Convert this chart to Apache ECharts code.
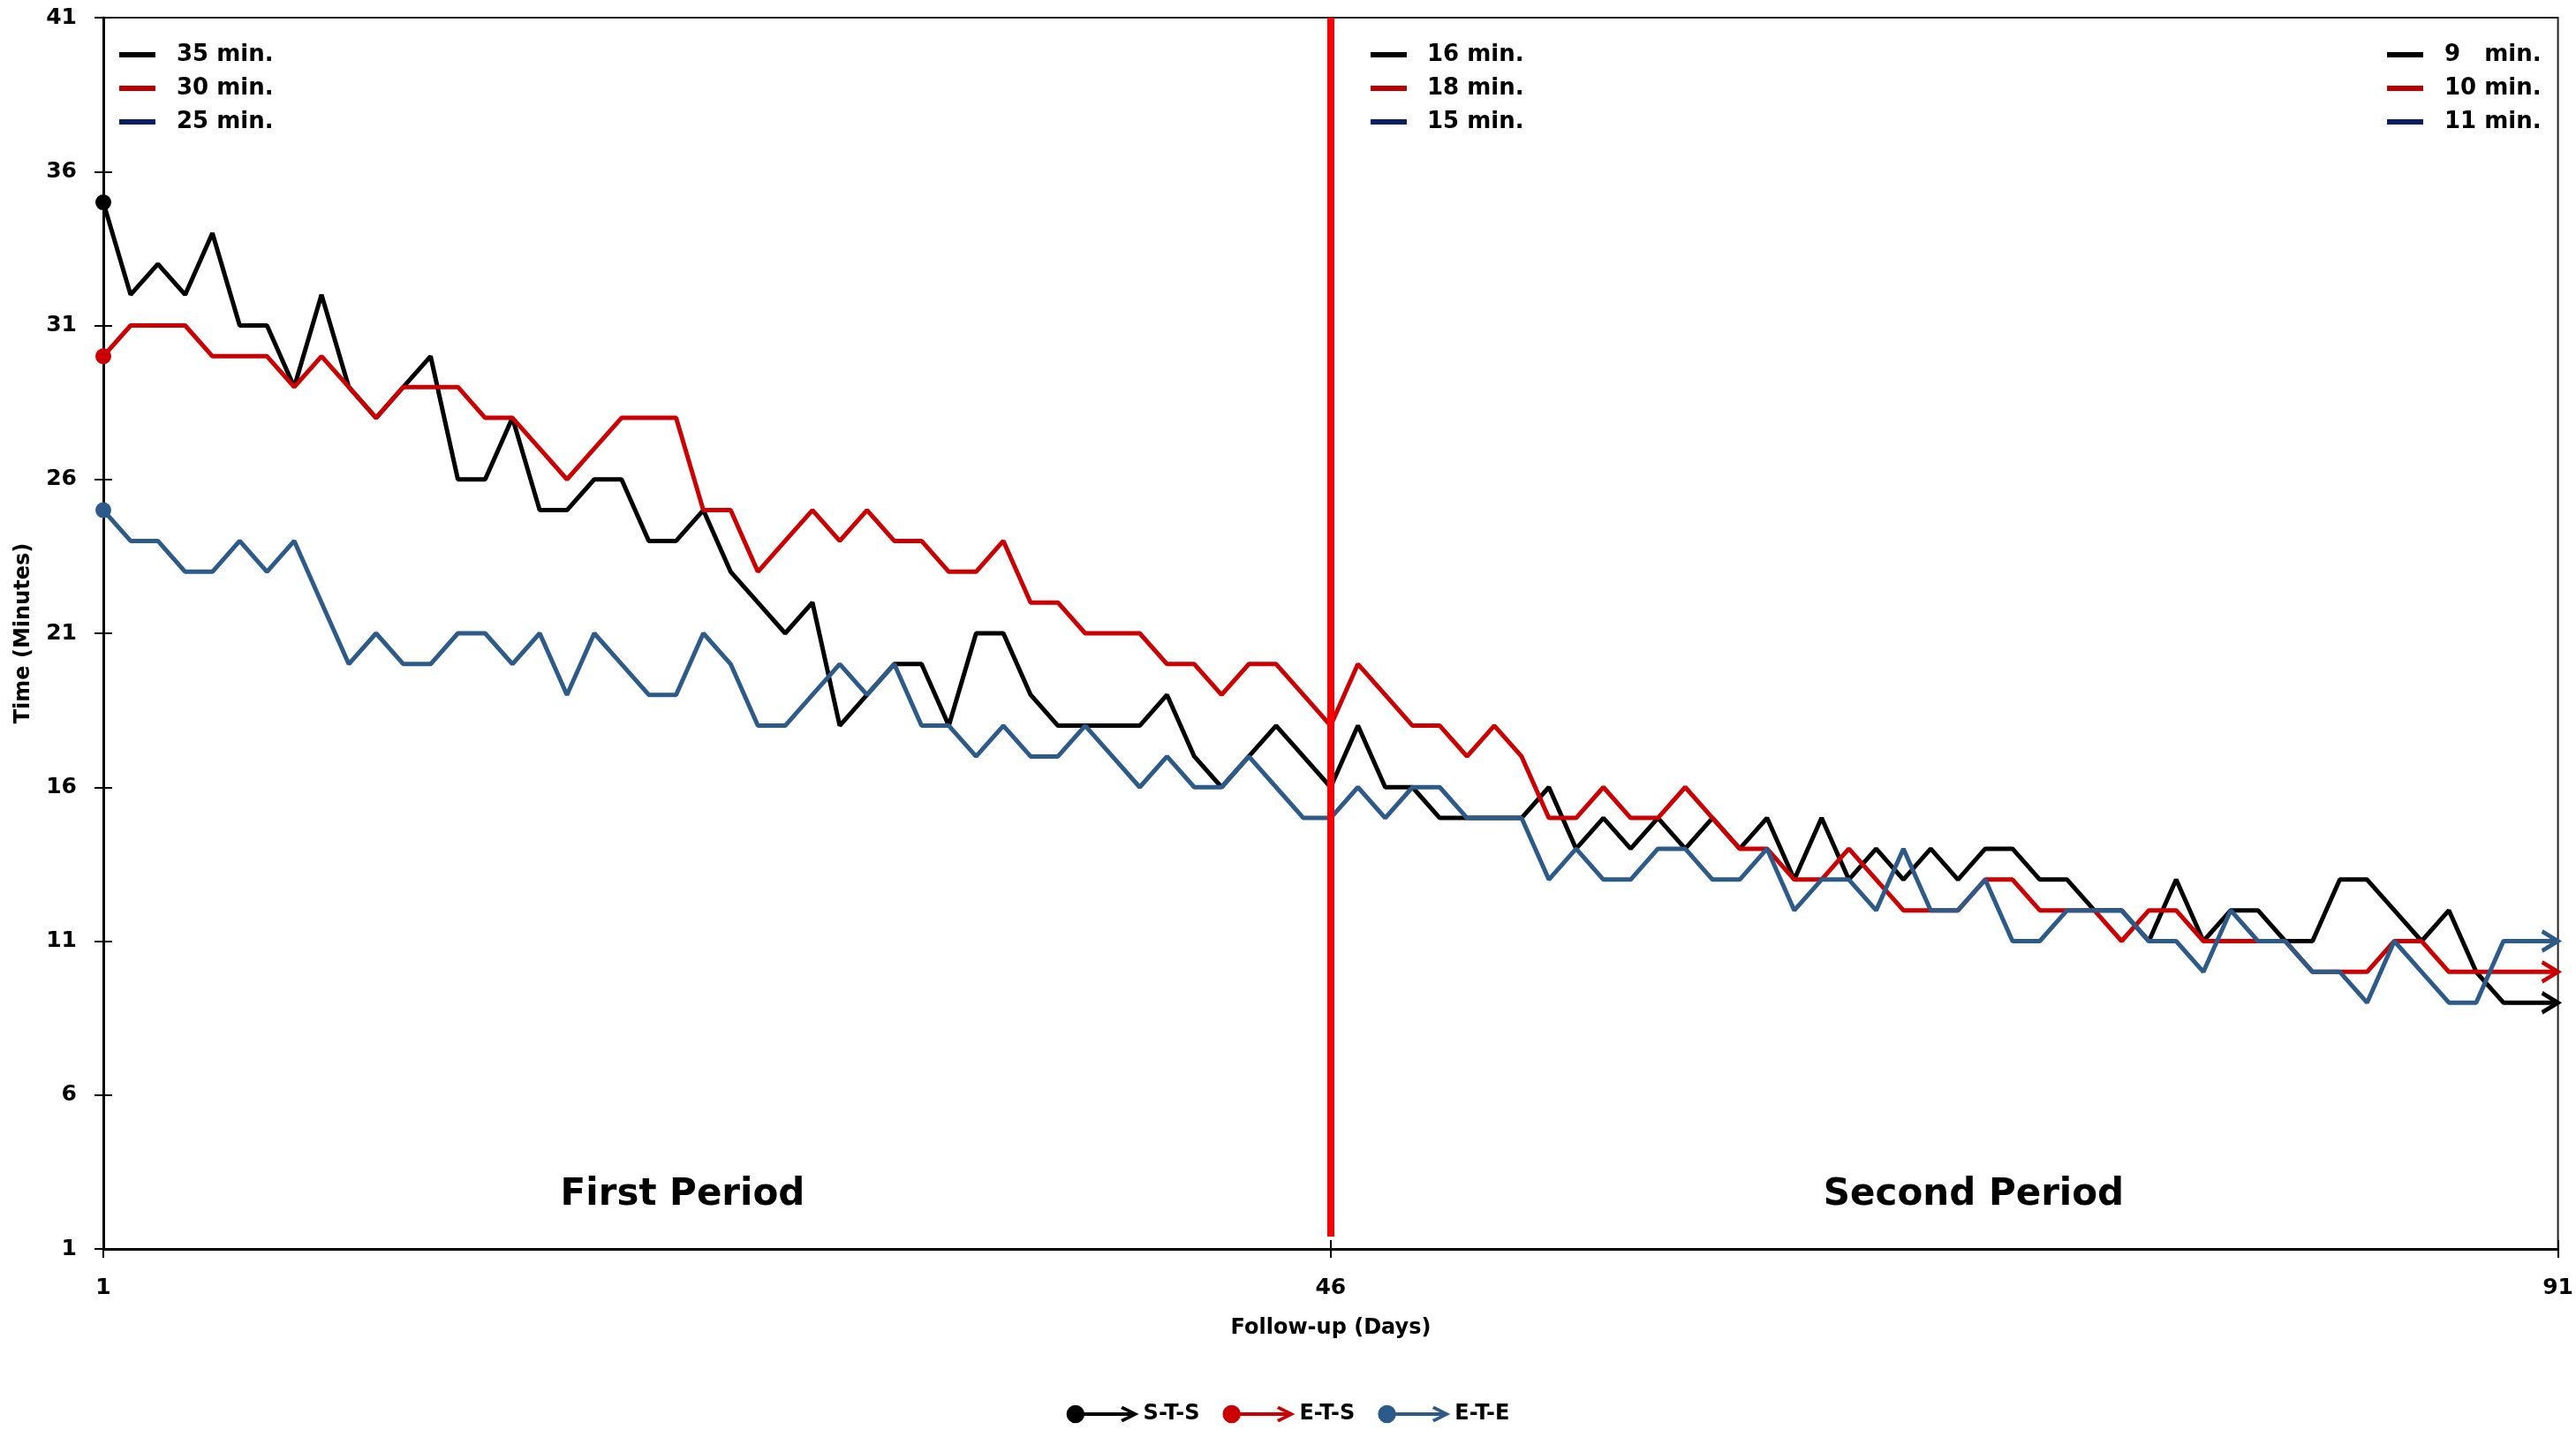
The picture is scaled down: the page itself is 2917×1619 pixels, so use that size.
<!DOCTYPE html>
<html><head><meta charset="utf-8">
<script src="https://cdn.jsdelivr.net/npm/echarts@6/dist/echarts.min.js"></script>
<style>html,body{margin:0;padding:0;background:#fff}#c{width:2917px;height:1619px}</style>
</head><body><div id="c"></div>
<script>
// ---- data ----
const days = Array.from({length: 91}, (_, i) => i + 1);
const seriesNames = ['S-T-S', 'E-T-S', 'E-T-E'];
const stsValues = [35,32,33,32,34,31,31,29,32,29,28,29,30,26,26,28,25,25,26,26,24,24,25,23,22,21,22,18,19,20,
  20,18,21,21,19,18,18,18,18,19,17,16,17,18,17,16,18,16,16,15,15,15,15,16,14,15,14,15,14,15,
  14,15,13,15,13,14,13,14,13,14,14,13,13,12,12,11,13,11,12,12,11,11,13,13,12,11,12,10,9,9,9];
const etsValues = [30,31,31,31,30,30,30,29,30,29,28,29,29,29,28,28,27,26,27,28,28,28,25,25,23,24,25,24,25,24,
  24,23,23,24,22,22,21,21,21,20,20,19,20,20,19,18,20,19,18,18,17,18,17,15,15,16,15,15,16,15,
  14,14,13,13,14,13,12,12,12,13,13,12,12,12,11,12,12,11,11,11,11,10,10,10,11,11,10,10,10,10,10];
const eteValues = [25,24,24,23,23,24,23,24,22,20,21,20,20,21,21,20,21,19,21,20,19,19,21,20,18,18,19,20,19,20,
  18,18,17,18,17,17,18,17,16,17,16,16,17,16,15,15,16,15,16,16,15,15,15,13,14,13,13,14,14,13,
  13,14,12,13,13,12,14,12,12,13,11,11,12,12,12,11,11,10,12,11,11,10,10,9,11,10,9,9,11,11,11];
const yTicks = [1, 6, 11, 16, 21, 26, 31, 36, 41];
const xTicks = [1, 46, 91];
const periodSplitDay = 46;
const periodLabels = ['First Period', 'Second Period'];
const legendGroupTexts = [
  ['35 min.', '30 min.', '25 min.'],
  ['16 min.', '18 min.', '15 min.'],
  ['9\u2007 min.', '10 min.', '11 min.']
];
const axisNames = {x: 'Follow-up (Days)', y: 'Time (Minutes)'};

// ---- styles ----
const FONT = 'DejaVu Sans';
const lineColors = ['#000000', '#cc0000', '#2d5b89'];
const legendLineColors = ['#000000', '#c00000', '#0a1f66'];
const chevron = 'path://M0,0 L10,6 L0,12';
const legendIcon = 'path://M0,10 A10,10 0 1,1 20,10 A10,10 0 1,1 0,10 Z M16,8 L76,8 L76,12 L16,12 Z M62,1 L80,10 L62,19 L60,15.8 L72.5,10 L60,4.2 Z';

function buildData(vals, color) {
  return vals.map((v, i) => {
    const item = {value: [days[i], v]};
    if (i === 0) {
      item.symbol = 'circle'; item.symbolSize = 18; item.itemStyle = {color: color};
    } else if (i === vals.length - 1) {
      item.symbol = chevron; item.symbolSize = [18, 22]; item.symbolOffset = ['-50%', 0];
      item.itemStyle = {color: 'none', borderColor: color, borderWidth: 4.5};
    }
    return item;
  });
}

const allValues = [stsValues, etsValues, eteValues];
const series = allValues.map((vals, k) => ({
  name: seriesNames[k],
  type: 'line',
  data: buildData(vals, lineColors[k]),
  symbol: 'none',
  showSymbol: true,
  showAllSymbol: true,
  color: lineColors[k],
  lineStyle: {color: lineColors[k], width: 5},
  emphasis: {disabled: true},
  silent: true,
  z: 2 + k
}));
series[2].markLine = {
  silent: true, symbol: ['none', 'none'], label: {show: false}, animation: false,
  lineStyle: {color: '#ff0000', width: 8, type: 'solid'},
  data: [[{coord: [periodSplitDay, 41]}, {coord: [periodSplitDay, 1.4]}]]
};

// graphics
const graphics = [];
const groupLineX = [135, 1552, 2703];
const groupTextX = [200, 1616, 2768];
const rowY = [62, 100, 138];
legendGroupTexts.forEach((texts, g) => {
  texts.forEach((t, r) => {
    graphics.push({type: 'rect', shape: {x: groupLineX[g], y: rowY[r] - 3, width: 41, height: 6},
      style: {fill: legendLineColors[r]}, z: 10});
    graphics.push({type: 'text', x: groupTextX[g], y: rowY[r], z: 10,
      style: {text: t, font: 'bold 26px "' + FONT + '"', fill: '#000', verticalAlign: 'middle', align: 'left'}});
  });
});
graphics.push({type: 'text', x: 773, y: 1353, z: 10,
  style: {text: periodLabels[0], font: 'bold 42px "' + FONT + '"', fill: '#000', align: 'center', verticalAlign: 'middle'}});
graphics.push({type: 'text', x: 2235, y: 1353, z: 10,
  style: {text: periodLabels[1], font: 'bold 42px "' + FONT + '"', fill: '#000', align: 'center', verticalAlign: 'middle'}});
graphics.push({type: 'text', x: 1507, y: 1504, z: 10,
  style: {text: axisNames.x, font: 'bold 24px "' + FONT + '"', fill: '#000', align: 'center', verticalAlign: 'middle'}});
graphics.push({type: 'text', x: 27, y: 717, rotation: Math.PI / 2, z: 10,
  style: {text: axisNames.y, font: 'bold 24px "' + FONT + '"', fill: '#000', align: 'center', verticalAlign: 'middle'}});

const tickStyle = {color: '#000', width: 2};
const labelStyle = {fontFamily: FONT, fontWeight: 'bold', fontSize: 25, color: '#000'};

const option = {
  animation: false,
  backgroundColor: '#fff',
  grid: {left: 117, right: 19, top: 20, bottom: 205, show: true, borderColor: '#222', borderWidth: 2, backgroundColor: 'transparent'},
  xAxis: [
    {type: 'value', min: 1, max: 91, position: 'bottom',
      axisLine: {show: true, onZero: false, lineStyle: {color: '#000', width: 3}},
      axisTick: {show: true, length: 10, customValues: xTicks, lineStyle: tickStyle},
      axisLabel: Object.assign({customValues: xTicks, margin: 32}, labelStyle),
      splitLine: {show: false}},
    {type: 'value', min: 1, max: 91, position: 'bottom',
      axisLine: {show: false, onZero: false},
      axisTick: {show: true, inside: true, length: 10, customValues: xTicks, lineStyle: tickStyle},
      axisLabel: {show: false}, splitLine: {show: false}}
  ],
  yAxis: [
    {type: 'value', min: 1, max: 41, position: 'left',
      axisLine: {show: true, onZero: false, lineStyle: {color: '#000', width: 3}},
      axisTick: {show: true, length: 10, customValues: yTicks, lineStyle: tickStyle},
      axisLabel: Object.assign({customValues: yTicks, margin: 30}, labelStyle),
      splitLine: {show: false}},
    {type: 'value', min: 1, max: 41, position: 'left',
      axisLine: {show: false, onZero: false},
      axisTick: {show: true, inside: true, length: 10, customValues: yTicks, lineStyle: tickStyle},
      axisLabel: {show: false}, splitLine: {show: false}}
  ],
  legend: {
    data: seriesNames, left: 'center', top: 1584, icon: legendIcon,
    itemWidth: 82, itemHeight: 21, itemGap: 26, selectedMode: false,
    textStyle: {fontFamily: FONT, fontWeight: 'bold', fontSize: 24, color: '#000'}
  },
  graphic: graphics,
  series: series
};

const chart = echarts.init(document.getElementById('c'), null, {renderer: 'canvas'});
chart.setOption(option);
</script>
</body></html>
